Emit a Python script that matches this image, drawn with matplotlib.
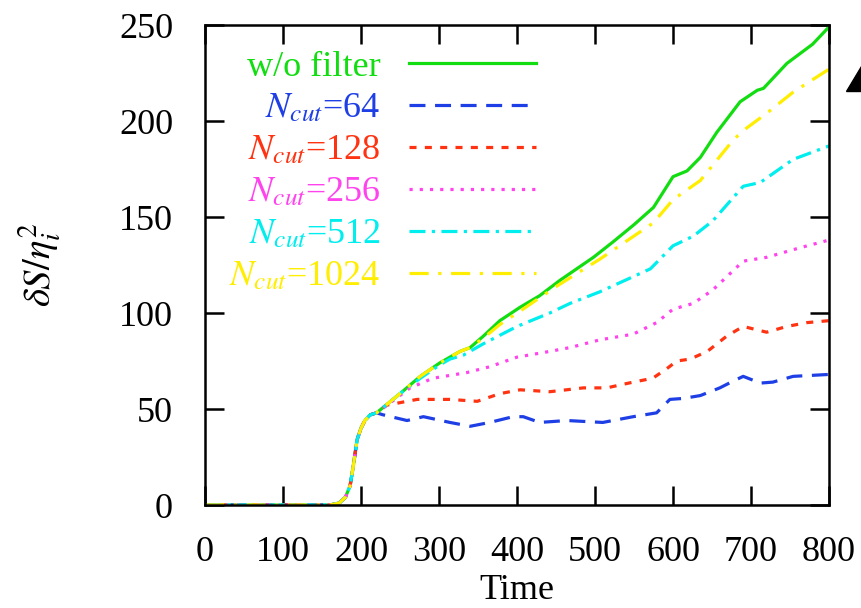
import matplotlib
matplotlib.use("Agg")
import matplotlib.pyplot as plt
from matplotlib.patches import Polygon

plt.rcParams['font.family'] = ['Liberation Serif', 'DejaVu Serif']
plt.rcParams['mathtext.fontset'] = 'stix'

# shared onset (all runs identical before divergence)
t_rise = [0, 160, 172, 180, 186, 190, 195, 200, 205, 212]
v_rise = [0, 0, 1, 4, 10, 20, 34, 40, 44, 47]

t_nofilter = [220, 250, 276, 301, 327, 340, 357, 378, 404, 429, 455, 498, 523, 550, 575, 600, 618, 635, 656, 686, 708, 716, 746, 779, 800]
v_nofilter = [48, 58, 67, 74, 80, 82, 88, 96, 103, 109, 117, 129, 137, 146, 155, 171, 174, 181, 194, 210, 216, 217, 230, 240, 249]

t_64 = [220, 228, 259, 280, 314, 340, 365, 395, 408, 429, 464, 510, 549, 579, 596, 613, 635, 660, 677, 690, 712, 728, 754, 800]
v_64 = [48, 47, 44, 46, 43, 41, 43, 46, 46, 43, 44, 43, 46, 48, 55, 55.5, 57, 61, 64.5, 67, 63.5, 64, 67, 68]

t_128 = [220, 233, 272, 314, 349, 378, 404, 442, 485, 515, 549, 574, 592, 605, 622, 644, 669, 690, 720, 746, 772, 800]
v_128 = [48, 52, 55, 55, 54, 58, 60, 59, 61, 61, 64, 66, 71, 75, 76, 80, 88, 93, 90, 93, 95, 96]

t_256 = [220, 240, 263, 292, 336, 365, 400, 442, 468, 506, 549, 579, 600, 626, 651, 677, 690, 720, 763, 800]
v_256 = [48, 54, 61, 66, 69, 72, 77, 80, 82, 86, 89, 95, 102, 105, 112, 122, 127, 129, 134, 138]

t_512 = [220, 250, 276, 301, 314, 331, 357, 400, 442, 468, 506, 571, 600, 626, 651, 690, 712, 754, 800]
v_512 = [48, 58, 66, 73, 76, 78, 84, 93, 100, 105, 111, 123, 135, 140, 148, 166, 168, 180, 187]

t_1024 = [220, 250, 276, 301, 327, 340, 357, 378, 404, 451, 506, 575, 600, 635, 677, 690, 720, 754, 800]
v_1024 = [48, 58, 67, 74, 80, 82, 87, 94, 101, 114, 128, 147, 159, 169, 190, 195, 204, 215, 227]

labels = ['w/o filter', r'$N_{cut}$=64', r'$N_{cut}$=128', r'$N_{cut}$=256', r'$N_{cut}$=512', r'$N_{cut}$=1024']
colors = ['#11dd11', '#1f3fe6', '#ff3311', '#ff44ee', '#00eeee', '#ffee00']
styles = ['-', (0, (5, 3)), (0, (2.2, 2.6)), (0, (1, 2.2)), (0, (5, 2, 1, 2)), (0, (6, 3, 1, 3))]

series = [(t_nofilter, v_nofilter), (t_64, v_64), (t_128, v_128),
          (t_256, v_256), (t_512, v_512), (t_1024, v_1024)]

fig = plt.figure(figsize=(8.61, 6.08), dpi=100)
ax = fig.add_axes([205/861, 1-505/608, 624/861, 480/608])

for (t, v), lab, c, ls in zip(series, labels, colors, styles):
    ax.plot(t_rise + t, v_rise + v, color=c, ls=ls, lw=2.3, label=lab)

ax.set_xlim(0, 800)
ax.set_ylim(0, 250)
ax.set_xticks(range(0, 801, 100))
ax.set_yticks(range(0, 251, 50))
ax.tick_params(direction='in', length=14, width=1.8, top=True, right=True,
               labelsize=26)
ax.tick_params(axis='y', pad=23)
ax.tick_params(axis='x', pad=22)
for s in ax.spines.values():
    s.set_linewidth(1.8)

ax.set_xlabel('Time', fontsize=26, labelpad=4)
ax.set_ylabel(r'$\delta S/\eta_i^2$', fontsize=28, labelpad=40)

leg = ax.legend(loc='upper right', bbox_to_anchor=(0.53, 0.947), frameon=False,
                markerfirst=False, alignment='right', fontsize=26,
                handlelength=3.5, handletextpad=0.8, labelspacing=0.24,
                borderaxespad=0.0, borderpad=0.0)
for txt, c in zip(leg.get_texts(), colors):
    txt.set_color(c)

# fragment of an arrow head at the right edge
fig.patches.append(Polygon([[846/861, 1-91/608], [1.0, 1-91/608], [1.0, 1-66/608]],
                           closed=True, transform=fig.transFigure, color='black'))

fig.savefig('out.png', dpi=100)
